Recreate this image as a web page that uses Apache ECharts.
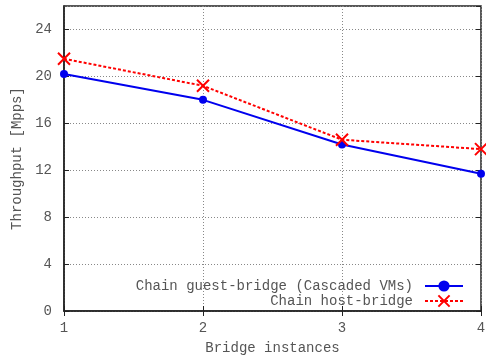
<!DOCTYPE html>
<html lang="en">
<head>
    <meta charset="UTF-8">
    <title>Bridge throughput</title>
    <script src="https://cdn.jsdelivr.net/npm/echarts@6/dist/echarts.min.js"></script>
    <style>
        html, body { margin: 0; padding: 0; background: #fff; }
        #chart { width: 486px; height: 356px; }
    </style>
</head>
<body>
<div id="chart"></div>
<script>
    var instances = ['1', '2', '3', '4'];
    var guestBridge = [20.2, 18.0, 14.2, 11.7];
    var hostBridge = [21.5, 19.2, 14.6, 13.8];
    var seriesNames = ['Chain guest-bridge (Cascaded VMs)', 'Chain host-bridge'];

    var font = 'Liberation Mono';
    var textColor = '#555';
    var fs = 14;
    var crossPath = 'path://M0,0L10,10M10,0L0,10';

    var myChart = echarts.init(document.getElementById('chart'));

    var option = {
        animation: false,
        textStyle: { fontFamily: font },
        grid: {
            left: 64, right: 5, top: 6, bottom: 45,
            outerBoundsMode: 'none',
            show: true, borderColor: '#222', borderWidth: 1.5
        },
        legend: {
            orient: 'vertical',
            right: 22,
            bottom: 48,
            padding: 0,
            align: 'right',
            itemGap: 1,
            itemWidth: 38,
            itemHeight: 14,
            textStyle: { fontFamily: font, fontSize: fs, color: textColor, padding: [0, 7, 0, 0] },
            data: seriesNames
        },
        xAxis: [{
            type: 'value',
            min: 1, max: 4, interval: 1,
            name: 'Bridge instances',
            nameLocation: 'middle',
            nameGap: 30,
            nameTextStyle: { fontFamily: font, fontSize: fs, color: textColor },
            axisLine: { lineStyle: { color: '#222', width: 1.5 } },
            axisTick: { inside: true, length: 5, lineStyle: { color: '#222' } },
            axisLabel: { fontFamily: font, fontSize: fs, color: textColor, margin: 10 },
            splitLine: { show: true, lineStyle: { color: '#888', type: [1, 2], width: 1 } }
        }, {
            type: 'value', position: 'top',
            min: 1, max: 4, interval: 1,
            axisLine: { show: false },
            axisTick: { inside: true, length: 5, lineStyle: { color: '#222' } },
            axisLabel: { show: false },
            splitLine: { show: false }
        }],
        yAxis: [{
            type: 'value',
            min: 0, max: 26, interval: 4,
            name: 'Throughput [Mpps]',
            nameLocation: 'middle',
            nameGap: 40,
            nameTextStyle: { fontFamily: font, fontSize: fs, color: textColor },
            axisLine: { show: true, lineStyle: { color: '#222', width: 1.5 } },
            axisTick: { show: true, inside: true, length: 5, lineStyle: { color: '#222' } },
            axisLabel: { fontFamily: font, fontSize: fs, color: textColor, margin: 12, showMaxLabel: false },
            splitLine: { show: true, lineStyle: { color: '#888', type: [1, 2], width: 1 } }
        }, {
            type: 'value', position: 'right',
            min: 0, max: 26, interval: 4,
            axisLine: { show: false },
            axisTick: { show: true, inside: true, length: 5, lineStyle: { color: '#222' } },
            axisLabel: { show: false },
            splitLine: { show: false }
        }],
        series: [{
            name: seriesNames[0],
            type: 'line',
            data: instances.map(function (x, i) { return [+x, guestBridge[i]]; }),
            symbol: 'circle',
            symbolSize: 8,
            lineStyle: { color: '#0000ee', width: 2 },
            itemStyle: { color: '#0000ee' }
        }, {
            name: seriesNames[1],
            type: 'line',
            data: instances.map(function (x, i) { return [+x, hostBridge[i]]; }),
            symbol: crossPath,
            symbolSize: 12,
            lineStyle: { color: '#ff0000', width: 2, type: [3, 2] },
            itemStyle: { color: '#ff0000', borderColor: '#ff0000', borderWidth: 2 }
        }]
    };
    myChart.setOption(option);
</script>
</body>
</html>
